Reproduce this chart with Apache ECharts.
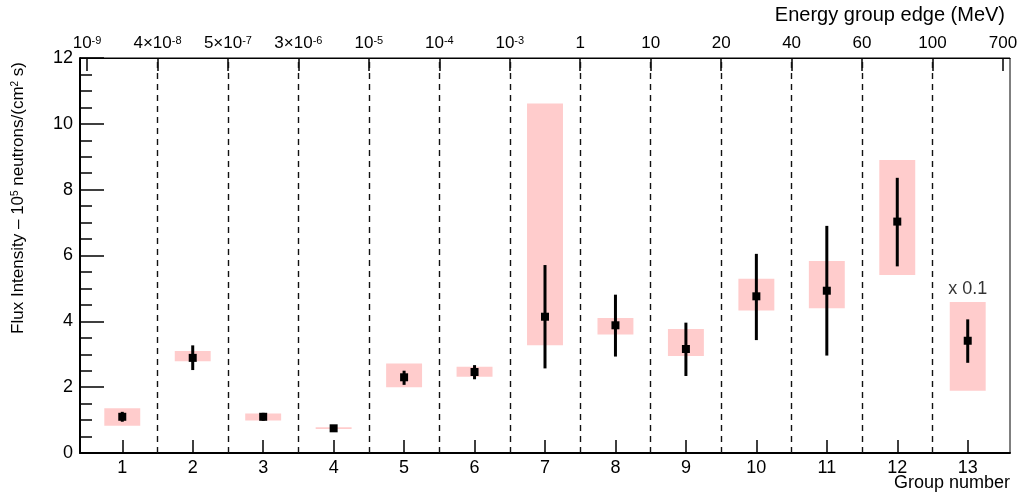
<!DOCTYPE html>
<html>
<head>
<meta charset="utf-8">
<script src="https://cdn.jsdelivr.net/npm/echarts@6/dist/echarts.min.js"></script>
<style>
  html, body { margin: 0; padding: 0; background: #fff; }
  #chart { width: 1021px; height: 494px; }
</style>
</head>
<body>
<div id="chart"></div>
<script>
// group numbers and energy bin edges
var groups = [1, 2, 3, 4, 5, 6, 7, 8, 9, 10, 11, 12, 13];
var edges = [0.5, 1.5, 2.5, 3.5, 4.5, 5.5, 6.5, 7.5, 8.5, 9.5, 10.5, 11.5, 12.5, 13.5];
var edgeLabels = ['10^-9', '4×10^-8', '5×10^-7', '3×10^-6', '10^-5', '10^-4', '10^-3',
                  '1', '10', '20', '40', '60', '100', '700'];

// flux values and their ranges (group 13 scaled by 0.1)
var flux    = [1.10, 2.89, 1.10, 0.75, 2.30, 2.46, 4.14, 3.88, 3.16, 4.76, 4.93, 7.03, 3.41];
var errLow  = [0.95, 2.52, 0.98, 0.73, 2.07, 2.24, 2.57, 2.93, 2.34, 3.43, 2.96, 5.67, 2.74];
var errHigh = [1.25, 3.27, 1.22, 0.77, 2.50, 2.67, 5.71, 4.81, 3.96, 6.05, 6.90, 8.36, 4.06];
var sysLow  = [0.83, 2.79, 0.99, 0.73, 2.00, 2.32, 3.27, 3.60, 2.95, 4.33, 4.40, 5.41, 1.89];
var sysHigh = [1.36, 3.10, 1.20, 0.78, 2.72, 2.62, 10.62, 4.10, 3.77, 5.29, 5.83, 8.90, 4.59];

var chart = echarts.init(document.getElementById('chart'));

function supText(s) {
    var parts = s.split('^');
    if (parts.length === 1) return '{b|' + s + '}';
    return '{b|' + parts[0] + '}{s|' + parts[1] + '}';
}

var font = 'Liberation Sans, Arial, sans-serif';

chart.setOption({
    animation: false,
    textStyle: { fontFamily: font },
    grid: {
        left: 80,
        right: 11,
        top: 58,
        bottom: 41,
        outerBoundsMode: 'none',
        containLabel: false,
        show: true,
        borderColor: '#000',
        borderWidth: 1
    },
    xAxis: [
        {
            type: 'value',
            position: 'bottom',
            min: 0.4,
            max: 13.6,
            name: 'Group number',
            nameLocation: 'end',
            nameGap: 0,
            nameMoveOverlap: false,
            nameTextStyle: {
                fontSize: 18,
                color: '#000',
                align: 'right',
                verticalAlign: 'top',
                padding: [21, 0, 0, 0]
            },
            splitLine: { show: false },
            axisLine: { lineStyle: { color: '#000', width: 2 } },
            axisTick: {
                inside: true,
                length: 13,
                customValues: groups,
                lineStyle: { color: '#000', width: 1.5 }
            },
            axisLabel: {
                customValues: groups,
                color: '#000',
                fontSize: 18,
                margin: 6
            }
        },
        {
            type: 'value',
            position: 'top',
            min: 0.4,
            max: 13.6,
            name: 'Energy group edge (MeV)',
            nameLocation: 'end',
            nameGap: 0,
            nameMoveOverlap: false,
            nameTextStyle: {
                fontSize: 20,
                color: '#000',
                align: 'right',
                verticalAlign: 'bottom',
                padding: [0, 5, 33, 0]
            },
            splitLine: { show: false },
            axisLine: { lineStyle: { color: '#000', width: 1 } },
            axisTick: {
                inside: true,
                length: 13,
                customValues: edges,
                lineStyle: { color: '#000', width: 1.5 }
            },
            axisLabel: {
                customValues: edges,
                margin: 6,
                formatter: function (v) {
                    var i = Math.round(v - 0.5);
                    return supText(edgeLabels[i]);
                },
                rich: {
                    b: { fontSize: 17, color: '#000', fontFamily: font },
                    s: { fontSize: 11, color: '#000', fontFamily: font, verticalAlign: 'top', padding: [0, 0, 6, 0] }
                }
            }
        }
    ],
    yAxis: {
        type: 'value',
        min: 0,
        max: 12,
        interval: 2,
        name: '{a|Flux Intensity – 10}{s|5}{a| neutrons/(cm}{s|2}{a| s)}',
        nameLocation: 'end',
        nameRotate: 90,
        nameGap: -4,
        nameMoveOverlap: false,
        nameTextStyle: {
            align: 'right',
            verticalAlign: 'bottom',
            padding: [0, 0, 53, 0],
            rich: {
                a: { fontSize: 17, color: '#000', fontFamily: font },
                s: { fontSize: 10, color: '#000', fontFamily: font, verticalAlign: 'top', padding: [0, 0, 6, 0] }
            }
        },
        splitLine: { show: false },
        axisLine: { show: true, lineStyle: { color: '#000', width: 2 } },
        axisTick: {
            inside: true,
            length: 24,
            lineStyle: { color: '#000', width: 1.5 }
        },
        minorTick: {
            show: true,
            splitNumber: 4,
            length: 12,
            lineStyle: { color: '#000', width: 1.5 }
        },
        axisLabel: {
            color: '#000',
            fontSize: 18,
            margin: 7
        }
    },
    series: [
        {
            name: 'systematic',
            type: 'custom',
            xAxisIndex: 0,
            data: groups.map(function (g, i) { return [g, sysLow[i], sysHigh[i]]; }),
            renderItem: function (params, api) {
                var x = api.value(0);
                var p1 = api.coord([x - 0.255, api.value(2)]);
                var p2 = api.coord([x + 0.255, api.value(1)]);
                return {
                    type: 'rect',
                    shape: {
                        x: p1[0],
                        y: p1[1],
                        width: p2[0] - p1[0],
                        height: Math.max(p2[1] - p1[1], 1.5)
                    },
                    style: { fill: '#ffcccc' }
                };
            },
            markLine: {
                silent: true,
                symbol: 'none',
                label: { show: false },
                lineStyle: { type: [6, 5], color: '#111', width: 1.4 },
                data: edges.slice(1, edges.length - 1).map(function (e) { return { xAxis: e }; })
            },
            z: 2
        },
        {
            name: 'flux',
            type: 'custom',
            xAxisIndex: 0,
            data: groups.map(function (g, i) { return [g, flux[i], errLow[i], errHigh[i]]; }),
            renderItem: function (params, api) {
                var x = api.value(0);
                var c = api.coord([x, api.value(1)]);
                var lo = api.coord([x, api.value(2)]);
                var hi = api.coord([x, api.value(3)]);
                return {
                    type: 'group',
                    children: [
                        {
                            type: 'line',
                            shape: { x1: c[0], y1: hi[1], x2: c[0], y2: lo[1] },
                            style: { stroke: '#000', lineWidth: 3 }
                        },
                        {
                            type: 'rect',
                            shape: { x: c[0] - 4, y: c[1] - 4, width: 8, height: 8 },
                            style: { fill: '#000' }
                        }
                    ]
                };
            },
            z: 3
        },
        {
            name: 'scale',
            type: 'scatter',
            xAxisIndex: 0,
            symbolSize: 0,
            data: [[groups[12], sysHigh[12]]],
            label: {
                show: true,
                position: 'top',
                distance: 4,
                formatter: 'x 0.1',
                color: '#000',
                fontSize: 18
            },
            z: 4
        }
    ]
});
</script>
</body>
</html>
